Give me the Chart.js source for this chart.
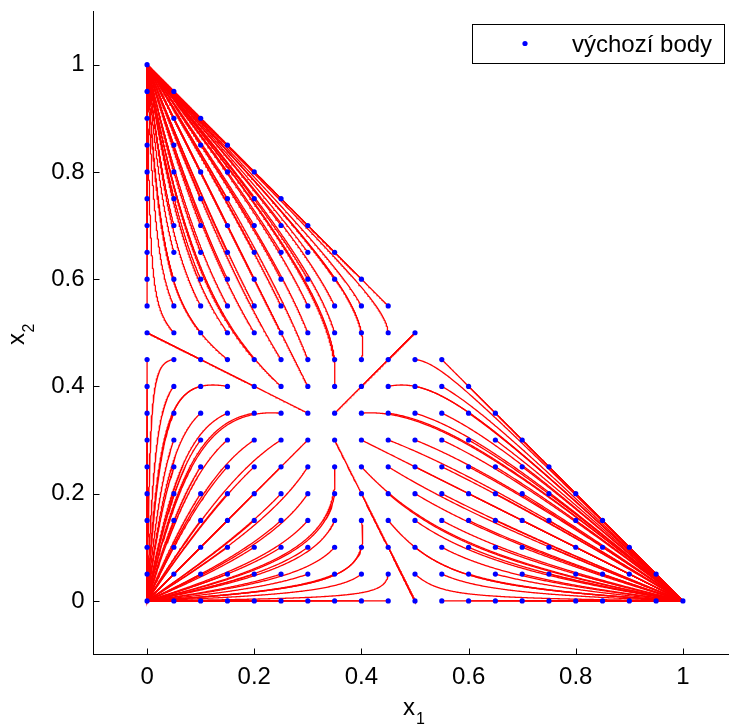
<!DOCTYPE html>
<html>
<head>
<meta charset="utf-8">
<script src="https://cdn.jsdelivr.net/npm/chart.js"></script>
<style>
  html, body { margin: 0; padding: 0; background: #fff; overflow: hidden; }
  #wrap { width: 729px; height: 724px; overflow: hidden; }
</style>
</head>
<body>
<div id="wrap"><canvas id="phase" width="750" height="724" style="width:750px;height:724px"></canvas></div>
<script>
// starting grid on the simplex x1 + x2 <= 1
const gridSteps = [0, 0.05, 0.1, 0.15, 0.2, 0.25, 0.3, 0.35, 0.4, 0.45, 0.5,
                   0.55, 0.6, 0.65, 0.7, 0.75, 0.8, 0.85, 0.9, 0.95, 1];
const tickValues = [0, 0.2, 0.4, 0.6, 0.8, 1];
const tickLabels = ['0', '0.2', '0.4', '0.6', '0.8', '1'];
const axisMin = -0.1;
const axisMax = 1.1;
const legendLabel = 'výchozí body';
const FONT = '"Liberation Sans", Arial, Helvetica, sans-serif';

// replicator system x_i' = x_i (x_i - sum x_j^2), x3 = 1 - x1 - x2
function rhs(p) {
    const s = p[0] * p[0] + p[1] * p[1] + p[2] * p[2];
    return [p[0] * (p[0] - s), p[1] * (p[1] - s), p[2] * (p[2] - s)];
}

function trajectory(p0, tEnd, dt) {
    let p = p0.slice();
    let last = { x: p[0], y: p[1] };
    const out = [last];
    for (let t = 0; t < tEnd; t += dt) {
        const k1 = rhs(p);
        const k2 = rhs(p.map((v, i) => v + dt / 2 * k1[i]));
        const k3 = rhs(p.map((v, i) => v + dt / 2 * k2[i]));
        const k4 = rhs(p.map((v, i) => v + dt * k3[i]));
        p = p.map((v, i) => v + dt / 6 * (k1[i] + 2 * k2[i] + 2 * k3[i] + k4[i]));
        if (Math.hypot(p[0] - last.x, p[1] - last.y) > 0.0015) {
            last = { x: p[0], y: p[1] };
            out.push(last);
        }
    }
    out.push({ x: p[0], y: p[1] });
    return out;
}

const n = gridSteps.length - 1;
const starts = [];
for (let i = 0; i <= n; i++) {
    for (let j = 0; i + j <= n; j++) {
        starts.push([gridSteps[i], gridSteps[j], gridSteps[n - i - j]]);
    }
}

const pointSet = {
    label: legendLabel,
    data: starts.map(p => ({ x: p[0], y: p[1] })),
    showLine: false,
    pointRadius: 2.6,
    pointBackgroundColor: '#0000ff',
    pointBorderWidth: 0,
    order: 0
};

const lineSets = starts.map(p => ({
    label: '',
    data: trajectory(p, 40, 0.02),
    showLine: true,
    pointRadius: 0,
    borderColor: '#ff0000',
    borderWidth: 1.3,
    order: 1
}));

// inward ticks, legend box and subscripted axis titles
const frameExtras = {
    id: 'frameExtras',
    afterDraw(chart) {
        const c = chart.ctx;
        const area = chart.chartArea;
        const xs = chart.scales.x, ys = chart.scales.y;
        c.save();
        c.strokeStyle = '#000';
        c.lineWidth = 1;
        c.beginPath();
        tickValues.forEach(v => {
            const px = Math.round(xs.getPixelForValue(v)) + 0.5;
            c.moveTo(px, area.bottom);
            c.lineTo(px, area.bottom - 6);
            const py = Math.round(ys.getPixelForValue(v)) + 0.5;
            c.moveTo(area.left, py);
            c.lineTo(area.left + 6, py);
        });
        c.stroke();

        // legend
        c.fillStyle = '#fff';
        c.fillRect(472, 24, 252, 39);
        c.strokeRect(472.5, 24.5, 252, 39);
        c.fillStyle = '#0000ff';
        c.beginPath();
        c.arc(525, 43.5, 2.6, 0, Math.PI * 2);
        c.fill();
        c.fillStyle = '#000';
        c.font = '24px ' + FONT;
        c.textBaseline = 'alphabetic';
        c.textAlign = 'left';
        c.fillText(legendLabel, 572, 52);

        // x1 title
        c.font = '24px ' + FONT;
        c.fillText('x', 403, 715);
        c.font = '16px ' + FONT;
        c.fillText('1', 416, 724);

        // x2 title
        c.translate(23.5, 345);
        c.rotate(-Math.PI / 2);
        c.font = '24px ' + FONT;
        c.fillText('x', 0, 0);
        c.font = '16px ' + FONT;
        c.fillText('2', 12.5, 10);
        c.restore();
    }
};

function axisOptions(pos, fitSize) {
    return {
        type: 'linear',
        position: pos,
        min: axisMin,
        max: axisMax,
        grid: { display: false, drawTicks: false },
        border: { display: true, color: '#000', width: 1 },
        ticks: {
            color: '#000',
            font: { family: FONT, size: 24 },
            padding: pos === 'left' ? 9 : 8,
            maxRotation: 0,
            autoSkip: false,
            callback: (value, index) => tickLabels[index]
        },
        afterBuildTicks: scale => {
            scale.ticks = tickValues.map(v => ({ value: v }));
        },
        afterFit: scale => {
            if (pos === 'left') scale.width = fitSize;
            else scale.height = fitSize;
            scale.paddingTop = 0;
            scale.paddingBottom = 0;
            scale.paddingLeft = 0;
            scale.paddingRight = 0;
        }
    };
}

new Chart(document.getElementById('phase'), {
    type: 'scatter',
    data: { datasets: [pointSet].concat(lineSets) },
    options: {
        responsive: false,
        devicePixelRatio: 1,
        animation: false,
        events: [],
        layout: { padding: { top: 11, right: 13.5, left: 0, bottom: 0 } },
        plugins: { legend: { display: false }, tooltip: { enabled: false } },
        scales: {
            x: axisOptions('bottom', 69.5),
            y: axisOptions('left', 93.5)
        }
    },
    plugins: [frameExtras]
});
</script>
</body>
</html>
